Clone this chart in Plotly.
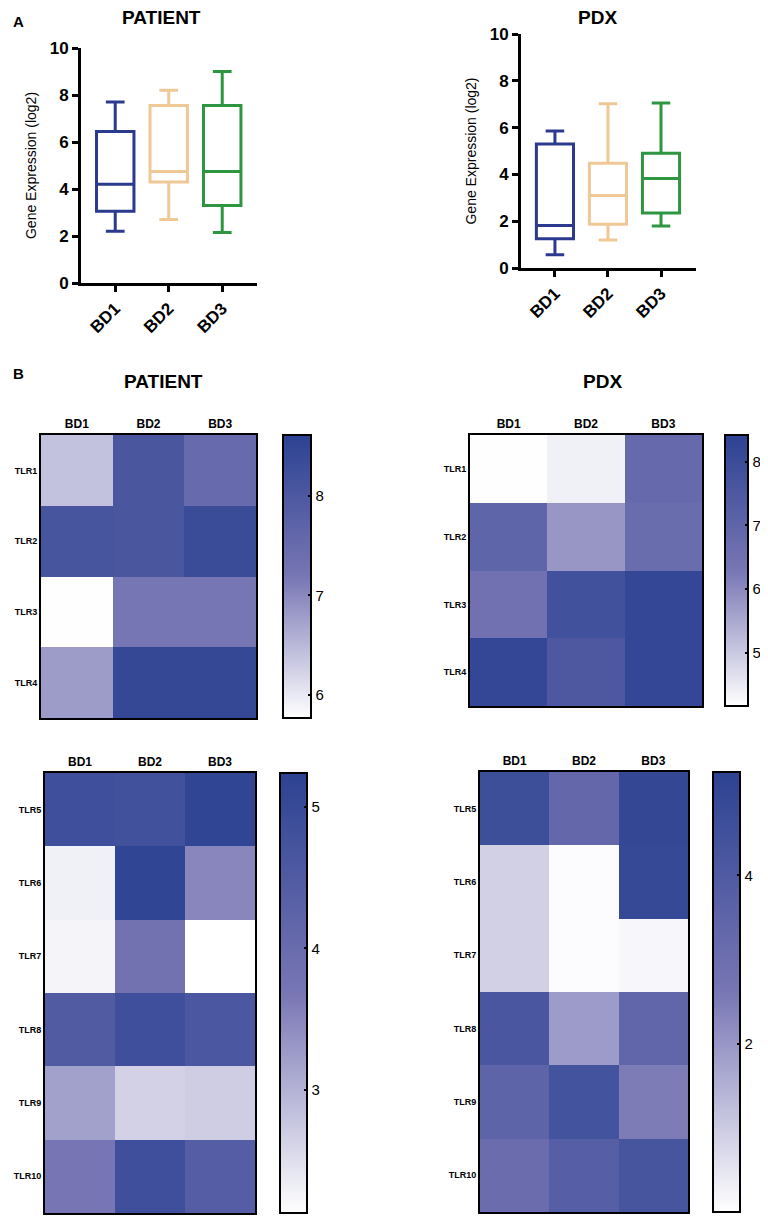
import plotly.graph_objects as go

W = 768
H = 1218
OFF = 8  # the page body adds 8px around the figure

# box plot stats (log2 expression)
groups = ["BD1", "BD2", "BD3"]
group_colors = ["#2b3a8f", "#f0c896", "#2e9640"]

patient_min = [2.2, 2.7, 2.15]
patient_q1 = [3.05, 4.3, 3.3]
patient_median = [4.2, 4.75, 4.75]
patient_q3 = [6.45, 7.55, 7.55]
patient_max = [7.7, 8.2, 9.0]

pdx_min = [0.57, 1.2, 1.8]
pdx_q1 = [1.25, 1.87, 2.35]
pdx_median = [1.82, 3.1, 3.82]
pdx_q3 = [5.3, 4.48, 4.9]
pdx_max = [5.85, 7.02, 7.05]

# heatmap values
tlr_top = ["TLR1", "TLR2", "TLR3", "TLR4"]
tlr_bottom = ["TLR5", "TLR6", "TLR7", "TLR8", "TLR9", "TLR10"]

patient_top = [
    [6.4, 8.05, 7.5],
    [8.1, 8.05, 8.35],
    [5.78, 7.2, 7.2],
    [6.8, 8.45, 8.45],
]
pdx_top = [
    [4.17, 4.4, 6.8],
    [7.0, 5.8, 6.7],
    [6.5, 7.8, 8.2],
    [8.2, 7.5, 8.2],
]
patient_bottom = [
    [4.85, 4.8, 5.15],
    [2.3, 5.15, 3.5],
    [2.25, 3.8, 2.13],
    [4.5, 4.85, 4.6],
    [3.2, 2.65, 2.7],
    [3.7, 4.85, 4.4],
]
pdx_bottom = [
    [4.6, 3.3, 5.0],
    [0.9, 0.05, 4.9],
    [0.9, 0.05, 0.15],
    [4.2, 1.9, 3.4],
    [3.5, 4.4, 2.5],
    [3.1, 3.8, 4.3],
]

FONT = "Liberation Sans"
scale = [[0, "#ffffff"], [0.5, "#7876b4"], [1, "#2c4292"]]


def px_x(a):
    return (a - OFF) / W


def px_y(a):
    return 1 - (a - OFF) / H


def dx(a, b):
    return [px_x(a), px_x(b)]


def dy(top, bottom):
    return [px_y(bottom), px_y(top)]


fig = go.Figure()

# box plots
for ax, (mins, q1s, meds, q3s, maxs) in [
    ("", (patient_min, patient_q1, patient_median, patient_q3, patient_max)),
    ("2", (pdx_min, pdx_q1, pdx_median, pdx_q3, pdx_max)),
]:
    for i, g in enumerate(groups):
        fig.add_trace(go.Box(
            x=[g], q1=[q1s[i]], median=[meds[i]], q3=[q3s[i]],
            lowerfence=[mins[i]], upperfence=[maxs[i]],
            line=dict(color=group_colors[i], width=3),
            fillcolor="rgba(0,0,0,0)",
            whiskerwidth=0.5, width=0.7,
            showlegend=False, hoverinfo="skip",
            xaxis="x" + ax, yaxis="y" + ax,
        ))

# heatmaps
heat_specs = [
    ("3", patient_top, tlr_top, 5.77, 8.61, 283, 435, 283, 28, [6, 7, 8]),
    ("4", pdx_top, tlr_top, 4.16, 8.42, 725, 435, 271, 23, [5, 6, 7, 8]),
    ("5", patient_bottom, tlr_bottom, 2.13, 5.24, 280, 773, 440, 27, [3, 4, 5]),
    ("6", pdx_bottom, tlr_bottom, 0.0, 5.23, 713, 772, 440, 27, [2, 4]),
]
for ax, z, rows, zmin, zmax, cbx, cby, cblen, cbw, tv in heat_specs:
    fig.add_trace(go.Heatmap(
        z=z, x=groups, y=rows, zmin=zmin, zmax=zmax,
        colorscale=scale, hoverinfo="skip",
        colorbar=dict(
            x=px_x(cbx), xanchor="left", y=px_y(cby), yanchor="top",
            len=cblen, lenmode="pixels", thickness=cbw, thicknessmode="pixels",
            xpad=0, ypad=0, outlinewidth=2, outlinecolor="black",
            tickvals=tv, ticks="inside", ticklen=4, tickwidth=1.5,
            tickcolor="black", ticklabeloverflow="allow",
            tickfont=dict(family=FONT, size=15, color="black"),
        ),
        xaxis="x" + ax, yaxis="y" + ax,
    ))

box_x = dict(
    type="category", showline=True, linecolor="black", linewidth=3,
    ticks="outside", ticklen=6, tickwidth=3, tickcolor="black",
    tickangle=-45, tickfont=dict(family=FONT, size=17, color="black", weight="bold"),
    showgrid=False, zeroline=False,
)
box_y = dict(
    range=[0, 10], tickvals=[0, 2, 4, 6, 8, 10], showline=True, linecolor="black",
    linewidth=3, ticks="outside", ticklen=6, tickwidth=3, tickcolor="black",
    tickfont=dict(family=FONT, size=17, color="black", weight="bold"),
    showgrid=False, zeroline=False,
    title=dict(text="Gene Expression (log2)", font=dict(family=FONT, size=14, color="black"), standoff=10),
)
heat_x = dict(
    side="top", showline=True, mirror=True, linecolor="black", linewidth=2,
    ticks="", tickfont=dict(family=FONT, size=12, color="black", weight="bold"),
    showgrid=False, zeroline=False,
)
heat_y = dict(
    autorange="reversed", showline=True, mirror=True, linecolor="black", linewidth=2,
    ticks="", tickfont=dict(family=FONT, size=9, color="black", weight="bold"),
    showgrid=False, zeroline=False,
)

fig.update_layout(
    width=W, height=H, margin=dict(l=0, r=0, t=0, b=0, autoexpand=False),
    paper_bgcolor="white", plot_bgcolor="white", boxmode="overlay",
    xaxis=dict(box_x, domain=dx(81, 257), range=[-0.64, 2.65]),
    yaxis=dict(box_y, domain=dy(48, 283)),
    xaxis2=dict(box_x, domain=dx(521, 696), range=[-0.64, 2.66], anchor="y2"),
    yaxis2=dict(box_y, domain=dy(34, 268), anchor="x2"),
    xaxis3=dict(heat_x, domain=dx(41, 256), anchor="y3"),
    yaxis3=dict(heat_y, domain=dy(435, 718), anchor="x3"),
    xaxis4=dict(heat_x, domain=dx(470, 702), anchor="y4"),
    yaxis4=dict(heat_y, domain=dy(435, 706), anchor="x4"),
    xaxis5=dict(heat_x, domain=dx(45, 255), anchor="y5"),
    yaxis5=dict(heat_y, domain=dy(773, 1213), anchor="x5"),
    xaxis6=dict(heat_x, domain=dx(480, 688), anchor="y6"),
    yaxis6=dict(heat_y, domain=dy(772, 1212), anchor="x6"),
)

labels = [
    ("A", 18, 22, 15),
    ("B", 18, 373, 15),
    ("PATIENT", 161, 17, 19),
    ("PDX", 597, 17, 19),
    ("PATIENT", 163, 382, 19),
    ("PDX", 602, 382, 19),
]
for txt, px, py, sz in labels:
    fig.add_annotation(
        text=txt, x=px_x(px), y=px_y(py), xref="paper", yref="paper",
        showarrow=False, xanchor="center", yanchor="middle",
        font=dict(family=FONT, size=sz, color="black", weight="bold"),
    )

fig.write_html("out.html")
